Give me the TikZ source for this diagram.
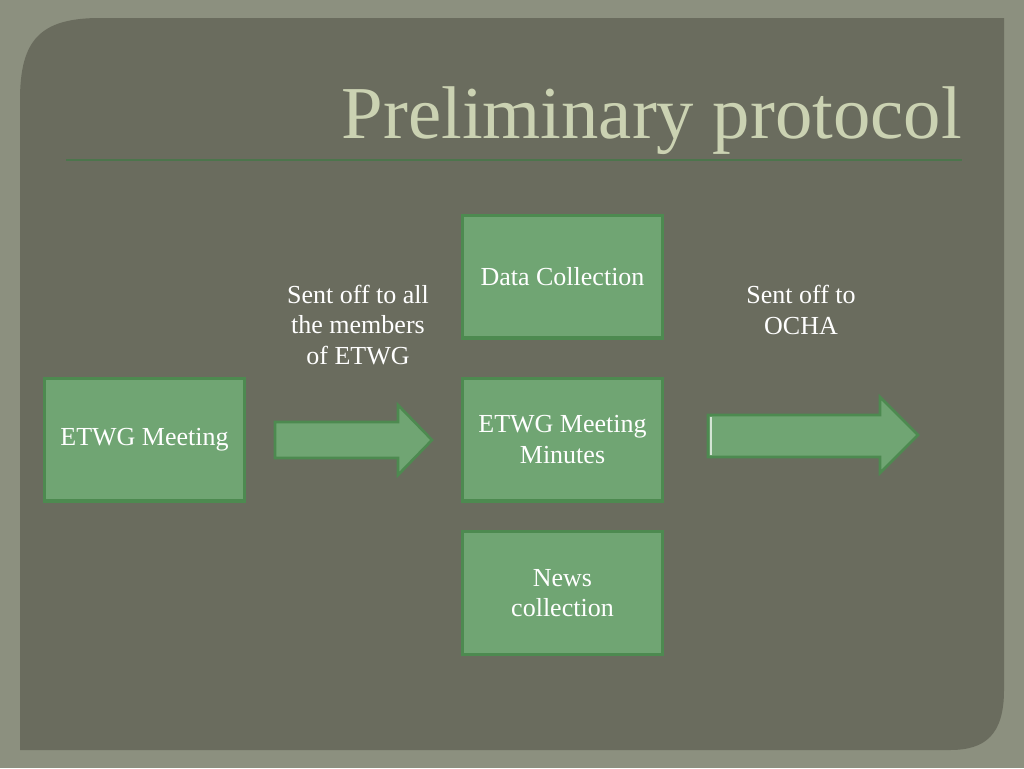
\documentclass[tikz,border=0pt]{standalone}
\usepackage{fontspec}
\setmainfont{Liberation Serif}
\begin{document}
\begin{tikzpicture}[x=0.75pt,y=-0.75pt,
  box/.style={draw=boxline,fill=boxfill,line width=2.5pt,minimum width=150pt,minimum height=92pt,inner sep=0pt,text=white,font=\fontsize{19.5}{23}\selectfont,align=center},
  lbl/.style={text=white,font=\fontsize{19.5}{23}\selectfont,align=center},
  arr/.style={draw=boxline,fill=boxfill,line width=2pt,line join=miter}]
\definecolor{outer}{HTML}{8C907F}
\definecolor{panel}{HTML}{6A6C5E}
\definecolor{boxfill}{HTML}{70A573}
\definecolor{boxline}{HTML}{4D8A50}
\definecolor{titlec}{HTML}{CBD2B2}
\useasboundingbox (0,0) rectangle (1024,768);
\fill[outer] (0,0) rectangle (1024,768);
\fill[panel] (20,100) .. controls (20,40) and (40,18) .. (100,18) -- (1004,18) -- (1004,690) .. controls (1004,735) and (985,750) .. (950,750) -- (20,750) -- cycle;
\node[anchor=base east,text=titlec,font=\fontsize{56}{60}\selectfont,inner sep=0pt] (title) at (962,138) {Preliminary protocol};
\draw[color=black!60!green!40!gray,line width=1pt] (66,160) -- (962,160);
\node[box] (m) at (144.5,439.5) {ETWG Meeting};
\node[box] (dc) at (562.5,276.5) {Data Collection};
\node[box] (mm) at (562.5,439.5) {ETWG Meeting\\Minutes};
\node[box] (nc) at (562.5,593) {News\\collection};
\node[lbl] (l1) at (358,325) {Sent off to all\\the members\\of ETWG};
\node[lbl] (l2) at (801,310) {Sent off to\\OCHA};
\draw[arr] (275,422) -- (398,422) -- (398,405) -- (432,440) -- (398,475) -- (398,458) -- (275,458) -- cycle;
\draw[arr] (708,415) -- (880,415) -- (880,397) -- (918,435) -- (880,473) -- (880,457) -- (708,457) -- cycle;
\draw[white!70!boxfill,line width=1pt] (711,417) -- (711,455);
\end{tikzpicture}
\end{document}
